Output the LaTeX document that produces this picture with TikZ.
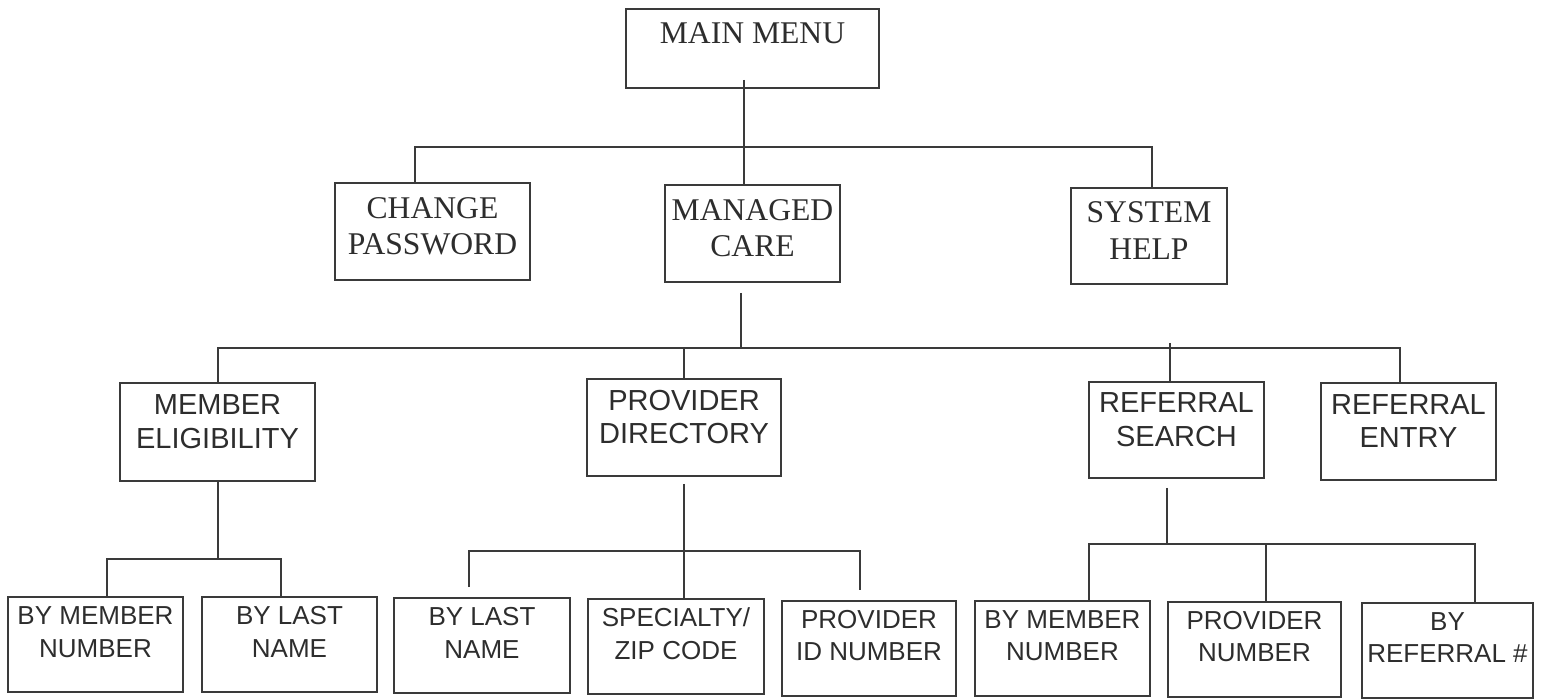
\documentclass[tikz,border=0pt]{standalone}
\usepackage{fontspec}
\setmainfont{Liberation Serif}
\setsansfont{Liberation Sans}
\usepackage{xcolor}
\definecolor{linegray}{RGB}{58,58,58}
\definecolor{inkgray}{RGB}{45,45,45}
\usetikzlibrary{calc}

\begin{document}
\begin{tikzpicture}[x=0.02cm, y=-0.02cm,
    menubox/.style={draw=linegray, line width=1.1pt, text=inkgray, align=center, inner sep=0pt, text depth=0pt},
    toplevel/.style={menubox, font=\fontsize{18}{21}\selectfont, text height=0.94cm, minimum height=1.94cm},
    sublevel/.style={menubox, font=\sffamily\fontsize{16.5}{19.3}\selectfont, text height=0.66cm, minimum height=1.94cm},
    leaf/.style={menubox, font=\sffamily\fontsize{14.8}{18.7}\selectfont, text height=0.5cm, minimum height=1.9cm},
    conn/.style={draw=linegray, line width=1.1pt}]
  \useasboundingbox (0,0) rectangle (1546,699);

  % Top menu
  \node[toplevel, minimum width=5.06cm, minimum height=1.58cm, text height=0pt, text depth=0.18cm] (mainmenu) at (752.5,48.5) {MAIN MENU};

  % First level
  \node[toplevel, minimum width=3.9cm] (chpass) at (432.5,231.5) {CHANGE\\PASSWORD};
  \node[toplevel, minimum width=3.5cm] (mgdcare) at (752.5,233.5) {MANAGED\\CARE};
  \node[toplevel, minimum width=3.12cm, minimum height=1.92cm] (syshelp) at (1149,236) {SYSTEM\\HELP};

  % Managed care options
  \node[sublevel, minimum width=3.9cm, minimum height=1.96cm] (memelig) at (217.5,432) {MEMBER\\ELIGIBILITY};
  \node[sublevel, minimum width=3.88cm] (provdir) at (684,427.5) {PROVIDER\\DIRECTORY};
  \node[sublevel, minimum width=3.5cm, minimum height=1.92cm] (refsearch) at (1176.5,430) {REFERRAL\\SEARCH};
  \node[sublevel, minimum width=3.5cm] (refentry) at (1408.5,431.5) {REFERRAL\\ENTRY};

  % Search options
  \node[leaf, minimum width=3.5cm] (mbynum) at (95.5,644.5) {BY MEMBER\\NUMBER};
  \node[leaf, minimum width=3.5cm] (mbyname) at (289.5,644.5) {BY LAST\\NAME};
  \node[leaf, minimum width=3.52cm] (pbyname) at (482,645.5) {BY LAST\\NAME};
  \node[leaf, minimum width=3.52cm] (pspec) at (676,646.5) {SPECIALTY/\\ZIP CODE};
  \node[leaf, minimum width=3.48cm] (pidnum) at (869,648.5) {PROVIDER\\ID NUMBER};
  \node[leaf, minimum width=3.5cm] (rbymem) at (1062.5,648.5) {BY MEMBER\\NUMBER};
  \node[leaf, minimum width=3.46cm] (rbyprov) at (1254.5,649.5) {PROVIDER\\NUMBER};
  \node[leaf, minimum width=3.42cm] (rbyref) at (1447.5,650.5) {BY\\REFERRAL \#};

  % Level 1 connectors
  \coordinate (trunk) at (744,147);
  \coordinate (cpjoin) at (415,147);
  \coordinate (shjoin) at (1152,147);
  \draw[conn] ($(mainmenu.south -| trunk)+(0,-9)$) -- (mgdcare.north -| trunk);
  \draw[conn] (chpass.north -| cpjoin) -- (cpjoin) -- (shjoin) -- (syshelp.north -| shjoin);

  % Level 2 connectors
  \coordinate (mcjoin) at (741,348);
  \coordinate (mejoin) at (218,348);
  \coordinate (pdjoin) at (684,348);
  \coordinate (rsjoin) at (1170,343);
  \coordinate (rejoin) at (1400,348);
  \draw[conn] ($(mgdcare.south -| mcjoin)+(0,10)$) -- (mcjoin);
  \draw[conn] (memelig.north -| mejoin) -- (mejoin) -- (rejoin) -- (refentry.north -| rejoin);
  \draw[conn] (pdjoin) -- (provdir.north -| pdjoin);
  \draw[conn] (rsjoin) -- (refsearch.north -| rsjoin);

  % Member eligibility branch
  \coordinate (mestem) at (218,559);
  \coordinate (mbnjoin) at (107,559);
  \coordinate (mblnjoin) at (281,559);
  \draw[conn] (memelig.south -| mestem) -- (mestem);
  \draw[conn] (mbynum.north -| mbnjoin) -- (mbnjoin) -- (mblnjoin) -- (mbyname.north -| mblnjoin);

  % Provider directory branch
  \coordinate (pdstem) at (684,551);
  \coordinate (pbnjoin) at (469,551);
  \coordinate (pidjoin) at (860,551);
  \draw[conn] ($(provdir.south -| pdstem)+(0,7)$) -- (pdstem) -- (pspec.north -| pdstem);
  \draw[conn] ($(pbyname.north -| pbnjoin)+(0,-10)$) -- (pbnjoin) -- (pidjoin) -- ($(pidnum.north -| pidjoin)+(0,-10)$);

  % Referral search branch
  \coordinate (rsstem) at (1167,544);
  \coordinate (rbmjoin) at (1089,544);
  \coordinate (rbpjoin) at (1266,544);
  \coordinate (rbrjoin) at (1475,544);
  \draw[conn] ($(refsearch.south -| rsstem)+(0,9)$) -- (rsstem);
  \draw[conn] (rbymem.north -| rbmjoin) -- (rbmjoin) -- (rbrjoin) -- (rbyref.north -| rbrjoin);
  \draw[conn] (rbpjoin) -- (rbyprov.north -| rbpjoin);
\end{tikzpicture}
\end{document}
